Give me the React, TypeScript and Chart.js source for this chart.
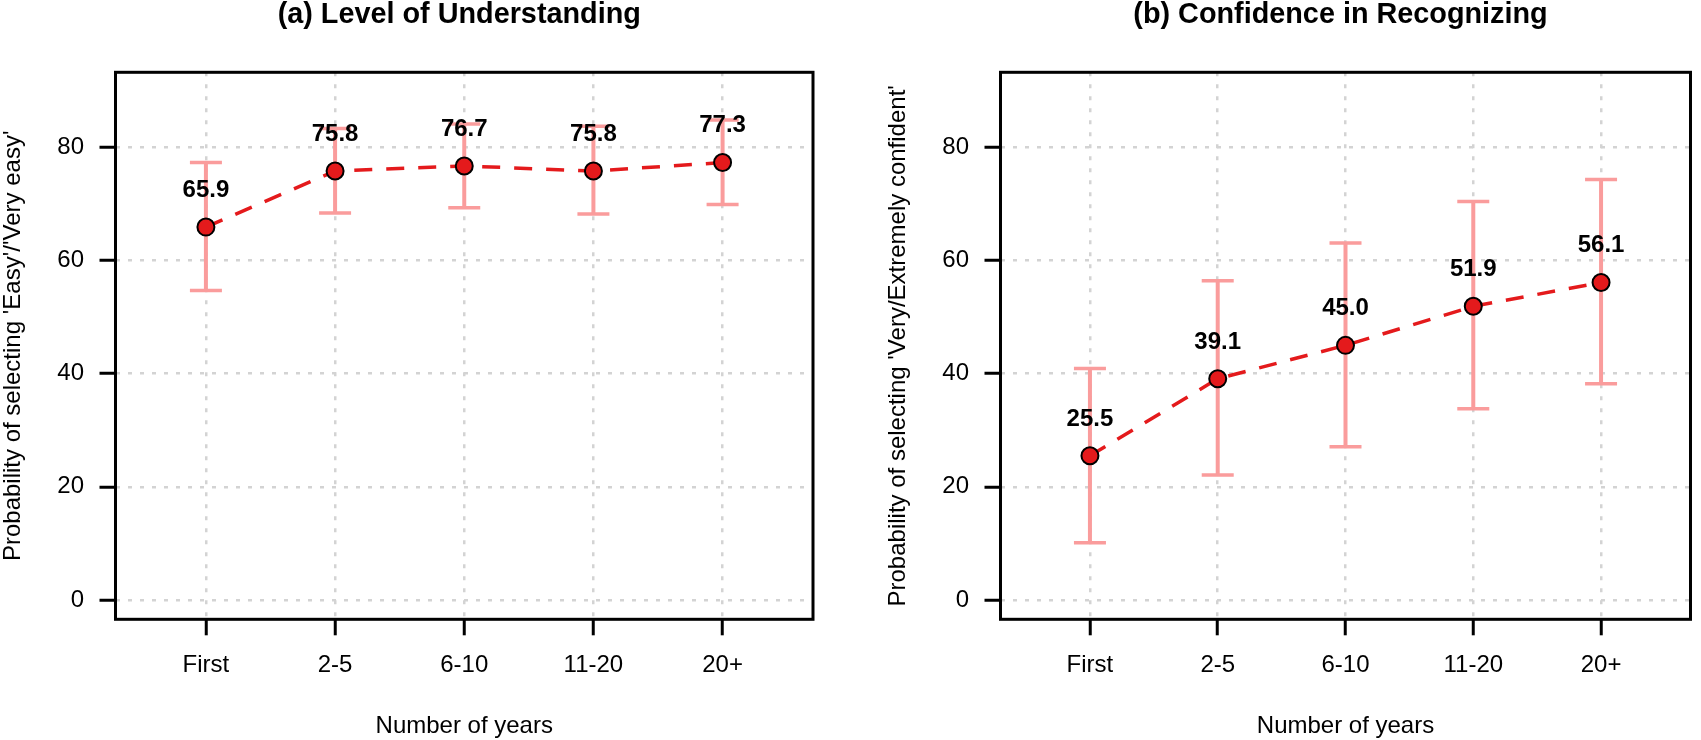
import React, { useEffect, useRef } from "react";
import { Chart, registerables } from "chart.js";

Chart.register(...registerables);

// ---- data ----
const categories = ["First", "2-5", "6-10", "11-20", "20+"];
const xPositions = [1, 2, 3, 4, 5];
const yTicks = [0, 20, 40, 60, 80];

const understandingMean = [65.9, 75.8, 76.7, 75.8, 77.3];
const understandingLow = [54.7, 68.4, 69.3, 68.2, 69.9];
const understandingHigh = [77.3, 83.3, 84.1, 83.7, 84.8];

const confidenceMean = [25.5, 39.1, 45.0, 51.9, 56.1];
const confidenceLow = [10.1, 22.1, 27.1, 33.8, 38.2];
const confidenceHigh = [40.9, 56.4, 63.1, 70.4, 74.3];

const FONT = "'Liberation Sans', Arial, Helvetica, sans-serif";
const RED = "#E41A1C";
const PINK = "#FA9C9C";
const GRID = "#D3D3D3";
const H = 740;

type PanelProps = {
  left: number;
  width: number;
  padLeft: number;
  padRight: number;
  yWidth: number;
  title: string;
  yTitle: string;
  mean: number[];
  low: number[];
  high: number[];
};

function Panel(props: PanelProps) {
  const ref = useRef<HTMLCanvasElement | null>(null);
  useEffect(() => {
    const canvas = ref.current;
    if (!canvas) return;
    const { mean, low, high, title } = props;

    const errorBars = {
      id: "errorBars",
      beforeDatasetsDraw(chart: any) {
        const ctx = chart.ctx;
        const xs = chart.scales.x;
        const ys = chart.scales.y;
        ctx.save();
        ctx.strokeStyle = PINK;
        ctx.lineCap = "butt";
        for (let i = 0; i < mean.length; i++) {
          const x = xs.getPixelForValue(xPositions[i]);
          const yl = ys.getPixelForValue(low[i]);
          const yh = ys.getPixelForValue(high[i]);
          ctx.lineWidth = 4;
          ctx.beginPath();
          ctx.moveTo(x, yl);
          ctx.lineTo(x, yh);
          ctx.stroke();
          ctx.lineWidth = 3.5;
          ctx.beginPath();
          ctx.moveTo(x - 16, yl);
          ctx.lineTo(x + 16, yl);
          ctx.moveTo(x - 16, yh);
          ctx.lineTo(x + 16, yh);
          ctx.stroke();
        }
        ctx.restore();
      },
    };

    const valueLabels = {
      id: "valueLabels",
      afterDatasetsDraw(chart: any) {
        const ctx = chart.ctx;
        const xs = chart.scales.x;
        const ys = chart.scales.y;
        ctx.save();
        ctx.fillStyle = "#000";
        ctx.font = `bold 24px ${FONT}`;
        ctx.textAlign = "center";
        ctx.textBaseline = "middle";
        for (let i = 0; i < mean.length; i++) {
          const x = xs.getPixelForValue(xPositions[i]);
          const y = ys.getPixelForValue(mean[i] + 6.5);
          ctx.fillText(mean[i].toFixed(1), x, y);
        }
        ctx.restore();
      },
    };

    const frame = {
      id: "frame",
      afterDraw(chart: any) {
        const ctx = chart.ctx;
        const a = chart.chartArea;
        ctx.save();
        ctx.strokeStyle = "#000";
        ctx.lineWidth = 3;
        ctx.strokeRect(a.left, a.top, a.right - a.left, a.bottom - a.top);
        ctx.fillStyle = "#000";
        ctx.font = `bold 28.8px ${FONT}`;
        ctx.textAlign = "center";
        ctx.textBaseline = "alphabetic";
        ctx.fillText(title, (a.left + a.right) / 2 - 5, 23);
        ctx.restore();
      },
    };

    const chart = new Chart(canvas, {
      type: "line",
      data: {
        datasets: [
          {
            data: mean.map((v, i) => ({ x: xPositions[i], y: v })),
            borderColor: RED,
            borderWidth: 3.5,
            borderDash: [18, 14],
            backgroundColor: RED,
            pointRadius: 8.5,
            pointBackgroundColor: RED,
            pointBorderColor: "#000",
            pointBorderWidth: 2,
            tension: 0,
            fill: false,
          },
        ],
      },
      options: {
        responsive: false,
        devicePixelRatio: 1,
        animation: false,
        events: [],
        layout: { padding: { left: props.padLeft, right: props.padRight, top: 72.3, bottom: 0 } },
        plugins: { legend: { display: false }, tooltip: { enabled: false }, title: { display: false } },
        scales: {
          x: {
            type: "linear",
            min: 0.3,
            max: 5.7,
            afterBuildTicks: (s: any) => {
              s.ticks = xPositions.map((v) => ({ value: v }));
            },
            afterFit: (s: any) => {
              s.height = H - 619.3;
            },
            ticks: {
              callback: (v: any) => categories[Number(v) - 1],
              color: "#000",
              font: { family: FONT, size: 24 },
              padding: 16,
              maxRotation: 0,
              autoSkip: false,
            },
            grid: {
              color: GRID,
              lineWidth: 2.5,
              drawTicks: true,
              tickLength: 16,
              tickColor: "#000",
              tickWidth: 3,
              tickBorderDash: [],
            },
            border: { display: false, dash: [4, 8] },
            title: {
              display: true,
              text: "Number of years",
              color: "#000",
              font: { family: FONT, size: 24, lineHeight: 1 },
              padding: { top: 0, bottom: 1.3 },
            },
          },
          y: {
            type: "linear",
            min: -3.41,
            max: 93.25,
            afterBuildTicks: (s: any) => {
              s.ticks = yTicks.map((v) => ({ value: v }));
            },
            afterFit: (s: any) => {
              s.width = props.yWidth;
            },
            ticks: {
              color: "#000",
              font: { family: FONT, size: 24 },
              padding: 15.5,
            },
            grid: {
              color: GRID,
              lineWidth: 2.5,
              drawTicks: true,
              tickLength: 16,
              tickColor: "#000",
              tickWidth: 3,
              tickBorderDash: [],
            },
            border: { display: false, dash: [4, 8] },
            title: {
              display: true,
              text: props.yTitle,
              color: "#000",
              font: { family: FONT, size: 24, lineHeight: 1 },
              padding: { top: 1, bottom: 0 },
            },
          },
        },
      } as any,
      plugins: [errorBars, valueLabels, frame],
    });
    return () => chart.destroy();
  }, []);

  return (
    <canvas
      ref={ref}
      width={props.width}
      height={H}
      style={{ position: "absolute", left: props.left, top: 0, width: props.width, height: H, display: "block" }}
    />
  );
}

export default function App() {
  return (
    <div style={{ position: "absolute", left: 0, top: 0, width: 1701, height: H, background: "#fff", overflow: "hidden" }}>
      <Panel
        left={0}
        width={850}
        padLeft={0}
        padRight={850 - 813}
        yWidth={115.5}
        title="(a) Level of Understanding"
        yTitle="Probability of selecting 'Easy'/'Very easy'"
        mean={understandingMean}
        low={understandingLow}
        high={understandingHigh}
      />
      <Panel
        left={850}
        width={851}
        padLeft={35}
        padRight={851 - 849}
        yWidth={115.5}
        title="(b) Confidence in Recognizing"
        yTitle="Probability of selecting 'Very/Extremely confident'"
        mean={confidenceMean}
        low={confidenceLow}
        high={confidenceHigh}
      />
    </div>
  );
}
